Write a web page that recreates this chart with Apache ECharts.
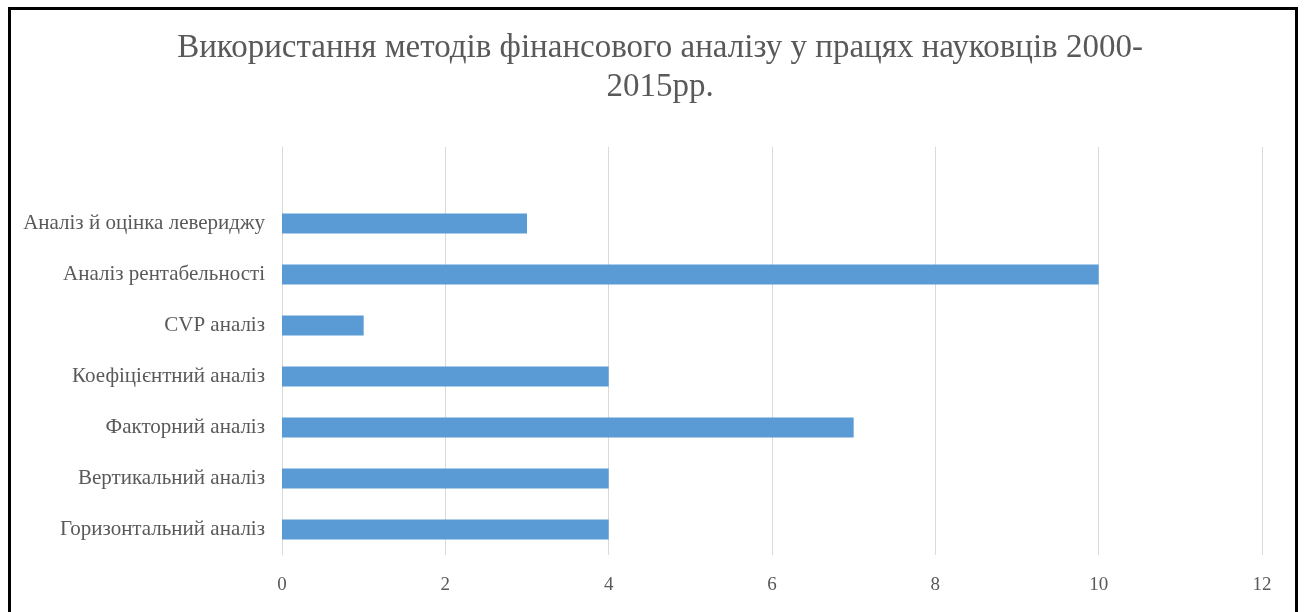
<!DOCTYPE html>
<html>
<head>
<meta charset="utf-8">
<script src="https://cdn.jsdelivr.net/npm/echarts@6/dist/echarts.min.js"></script>
<style>
html,body{margin:0;padding:0;background:#fff;}
#frame{position:absolute;left:8px;top:7px;width:1290px;height:610px;border:3px solid #000;border-bottom:none;box-sizing:border-box;}
#chart{position:absolute;left:0;top:0;width:1305px;height:612px;}
</style>
</head>
<body>
<div id="chart"></div>
<div id="frame"></div>
<script>
const titleText = 'Використання методів фінансового аналізу у працях науковців 2000-\n2015рр.';
const categories = ['', 'Аналіз й оцінка левериджу', 'Аналіз рентабельності', 'CVP аналіз', 'Коефіцієнтний аналіз', 'Факторний аналіз', 'Вертикальний аналіз', 'Горизонтальний аналіз'];
const values = [null, 3, 10, 1, 4, 7, 4, 4];
const xMin = 0, xMax = 12, xStep = 2;

const chart = echarts.init(document.getElementById('chart'), null, {renderer: 'canvas'});
chart.setOption({
  animation: false,
  backgroundColor: '#fff',
  title: {
    text: titleText,
    left: 655,
    textAlign: 'center',
    top: 24,
    padding: 5,
    textStyle: {
      fontFamily: 'Liberation Serif',
      fontSize: 33,
      fontWeight: 'normal',
      color: '#595959',
      lineHeight: 39
    }
  },
  grid: {left: 282, right: 43, top: 147, bottom: 57, containLabel: false},
  xAxis: {
    type: 'value',
    min: xMin, max: xMax, interval: xStep,
    axisLine: {show: false},
    axisTick: {show: false},
    splitLine: {show: true, lineStyle: {color: '#d9d9d9', width: 1}},
    axisLabel: {
      margin: 21,
      fontFamily: 'Liberation Serif',
      fontSize: 19,
      color: '#595959'
    }
  },
  yAxis: {
    type: 'category',
    data: categories,
    inverse: true,
    axisLine: {show: true, lineStyle: {color: '#d9d9d9'}},
    axisTick: {show: false},
    axisLabel: {
      margin: 17,
      fontFamily: 'Liberation Serif',
      fontSize: 21,
      color: '#595959'
    }
  },
  series: [{
    type: 'bar',
    data: values,
    barWidth: 20,
    itemStyle: {color: '#5b9bd5'}
  }]
});
</script>
</body>
</html>
